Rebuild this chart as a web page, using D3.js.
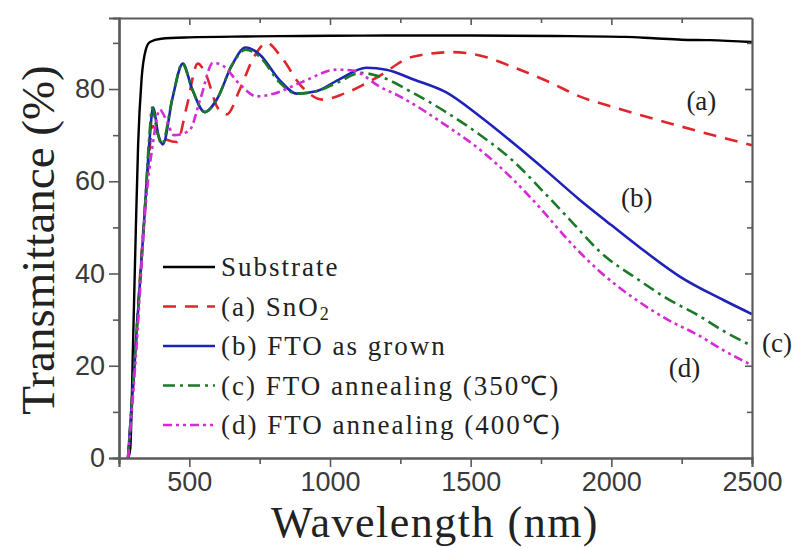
<!DOCTYPE html>
<html>
<head>
<meta charset="utf-8">
<script src="https://cdn.jsdelivr.net/npm/d3@7"></script>
<style>
  body { margin: 0; background: #fff; }
  svg text { font-family: "Liberation Serif", "Times New Roman", Times, serif; }
</style>
</head>
<body>
<script>
// Transmittance spectra, values (wavelength in nm, T in %)

// Substrate
var subWl = [282, 290, 300, 310, 318, 330, 345, 360, 400, 500, 700, 900, 1200, 1500, 1800, 2050, 2150, 2250, 2350, 2500];
var subT  = [0, 2, 25, 50, 68, 82, 88.5, 90.2, 90.9, 91.2, 91.4, 91.5, 91.6, 91.6, 91.5, 91.3, 91.0, 90.7, 90.6, 90.2];

// (a) SnO2
var snWl = [282, 300, 320, 350, 370, 390, 420, 456, 490, 530, 560, 600, 633, 680, 730, 776, 820, 900, 974, 1050, 1166, 1294, 1436, 1550, 1649, 1780, 1887, 2000, 2125, 2300, 2500];
var snT  = [0, 15, 35, 60, 72, 70, 69, 68.5, 76, 85.5, 83, 76, 74.5, 80, 87, 90, 87.5, 80.5, 77.7, 79, 82.5, 87, 88, 87, 84.8, 81.5, 78.4, 76.2, 74, 71, 67.8];

// (b) FTO as grown
var asWl = [282, 310, 340, 360, 371, 390, 406, 440, 477, 510, 555, 600, 650, 700, 750, 820, 882, 950, 1030, 1130, 1200, 1300, 1415, 1530, 1649, 1770, 1887, 2000, 2100, 2242, 2400, 2500];
var asT  = [0, 25, 52, 70, 76, 70, 68, 78, 85.5, 80, 75, 78, 85, 89, 87.5, 82, 79, 79.5, 82, 84.6, 84.2, 82, 79.2, 74.2, 68.4, 62.2, 56, 50.5, 45.7, 39.4, 34.2, 31.2];

// (c) FTO annealing 350 C
var a350Wl = [282, 310, 340, 358, 368, 385, 402, 440, 475, 510, 555, 600, 650, 700, 750, 820, 882, 950, 1030, 1110, 1177, 1300, 1415, 1530, 1649, 1770, 1870, 1958, 2100, 2200, 2313, 2400, 2500];
var a350T  = [0, 25, 52, 70, 76, 71, 68, 78, 85.5, 80, 75, 78, 85, 88.5, 87, 81.5, 79, 79.5, 81.5, 83.5, 82.7, 79, 74.9, 70.2, 64.5, 57, 50.5, 44.8, 38.5, 34.5, 30.8, 27.5, 24.3];

// (d) FTO annealing 400 C
var a400Wl = [282, 310, 345, 370, 395, 420, 445, 500, 540, 584, 620, 680, 740, 800, 900, 1024, 1081, 1177, 1248, 1415, 1530, 1649, 1750, 1850, 1958, 2100, 2200, 2313, 2400, 2500];
var a400T  = [0, 22, 55, 68, 75.5, 73, 70, 71, 78, 85.7, 85, 81, 78.4, 79, 81.5, 84.2, 84, 80.5, 78.4, 72, 67, 60.5, 54, 47, 40.5, 33.8, 30, 26.5, 23.3, 20.1];

var seriesNames  = ["Substrate", "(a) SnO", "(b) FTO as grown", "(c) FTO annealing (350\u2103)", "(d) FTO annealing (400\u2103)"];
var seriesColors = ["#000000", "#e0262b", "#1f22b8", "#1b7a25", "#d62ad6"];
var seriesDash   = ["none", "13,9", "none", "12,5,3,5", "9,4,3,4,3,4"];

var xTicks = [500, 1000, 1500, 2000, 2500];
var yTicks = [0, 20, 40, 60, 80];

var curveLabels = ["(a)", "(b)", "(c)", "(d)"];
var curveLabelWl = [2320, 2090, 2600, 2260];
var curveLabelT  = [75.5, 54.5, 23, 17.5];

var series = [
  {wl: subWl, t: subT}, {wl: snWl, t: snT}, {wl: asWl, t: asT},
  {wl: a350Wl, t: a350T}, {wl: a400Wl, t: a400T}
].map(function (s, i) {
  return {
    name: seriesNames[i], color: seriesColors[i], dash: seriesDash[i],
    pts: s.wl.map(function (w, j) { return [w, s.t[j]]; })
  };
});

var W = 796, H = 548;
var svg = d3.select("body").append("svg").attr("width", W).attr("height", H);

var x = d3.scaleLinear().domain([250, 2500]).range([119, 752]);
var y = d3.scaleLinear().domain([0, 95.4]).range([458, 18]);

var line = d3.line()
  .x(function (d) { return x(d[0]); })
  .y(function (d) { return y(d[1]); })
  .curve(d3.curveMonotoneX);

// curves
var g = svg.append("g");
g.selectAll("path.curve")
  .data(series)
  .enter()
  .append("path")
    .attr("class", "curve")
    .attr("d", function (d) { return line(d.pts); })
    .attr("fill", "none")
    .attr("stroke", function (d) { return d.color; })
    .attr("stroke-width", function (d, i) { return i == 0 ? 2.4 : 2.6; })
    .attr("stroke-dasharray", function (d) { return d.dash; });

// axes: left/bottom ticks outward, top/right ticks inward
var axisColor = "#5a5a5a";
var minorX = d3.range(500, 2501, 250);
var minorY = d3.range(0, 91, 10);

var bottom = svg.append("g").attr("transform", "translate(0," + y(0) + ")")
  .call(d3.axisBottom(x).tickValues(xTicks).tickSize(9).tickPadding(5).tickFormat(d3.format("d")));
bottom.selectAll(".tick").filter(function (d) { return d == 2500; }).select("line").remove();
svg.append("g").attr("transform", "translate(0," + y(0) + ")")
  .call(d3.axisBottom(x).tickValues(minorX.filter(function (v) { return v % 500; })).tickSize(6).tickFormat(""));

var left = svg.append("g").attr("transform", "translate(" + x(250) + ",0)")
  .call(d3.axisLeft(y).tickValues(yTicks).tickSize(10).tickPadding(4));
svg.append("g").attr("transform", "translate(" + x(250) + ",0)")
  .call(d3.axisLeft(y).tickValues(minorY.filter(function (v) { return v % 20; })).tickSize(6).tickFormat(""));

svg.append("g").attr("transform", "translate(0," + y(95.4) + ")")
  .call(d3.axisBottom(x).tickValues(minorX.filter(function (v) { return v < 2500; }))
    .tickSize(0).tickFormat(""))
  .selectAll(".tick line").attr("y2", function (d) { return d % 500 ? 5 : 7; });

svg.append("g").attr("transform", "translate(" + x(2500) + ",0)")
  .call(d3.axisLeft(y).tickValues(minorY.filter(function (v) { return v > 0; })).tickSize(0).tickFormat(""))
  .selectAll(".tick line").attr("x2", function (d) { return d % 20 ? -5 : -7; });

svg.selectAll(".domain").attr("stroke", axisColor).attr("stroke-width", 2.2);
svg.selectAll(".tick line").attr("stroke", axisColor).attr("stroke-width", 1.6);
svg.selectAll(".tick text")
  .style("font-family", "'Liberation Sans', Arial, sans-serif")
  .style("font-size", "27px")
  .attr("fill", "#3a3a3a");

// axis titles
svg.append("text")
  .attr("transform", "translate(54,240) rotate(-90)")
  .attr("text-anchor", "middle")
  .style("font-size", "47px")
  .attr("fill", "#222")
  .text("Transmittance (%)");

svg.append("text")
  .attr("x", 435).attr("y", 537)
  .attr("text-anchor", "middle")
  .style("font-size", "44px")
  .style("letter-spacing", "1.5px")
  .attr("fill", "#222")
  .text("Wavelength (nm)");

// legend
var legend = svg.append("g");
var rows = legend.selectAll("g.row")
  .data(series)
  .enter()
  .append("g")
    .attr("class", "row")
    .attr("transform", function (d, i) { return "translate(163," + (267 + i * 39.5) + ")"; });

rows.append("line")
  .attr("x1", 0).attr("x2", 52)
  .attr("stroke", function (d) { return d.color; })
  .attr("stroke-width", 2.6)
  .attr("stroke-dasharray", function (d) { return d.dash; });

var lt = rows.append("text")
  .attr("x", 58).attr("y", 9)
  .style("font-size", "27px")
  .style("letter-spacing", "2px")
  .attr("fill", "#222")
  .text(function (d) { return d.name; });
lt.filter(function (d, i) { return i == 1; })
  .append("tspan").attr("dy", 4).style("font-size", "18px").text("2");

// curve tags
svg.selectAll("text.tag")
  .data(curveLabels)
  .enter()
  .append("text")
    .attr("class", "tag")
    .attr("x", function (d, i) { return i == 2 ? 777 : x(curveLabelWl[i]); })
    .attr("y", function (d, i) { return y(curveLabelT[i]); })
    .attr("text-anchor", "middle")
    .style("font-size", "27px")
    .attr("fill", "#222")
    .text(function (d) { return d; });
</script>
</body>
</html>
